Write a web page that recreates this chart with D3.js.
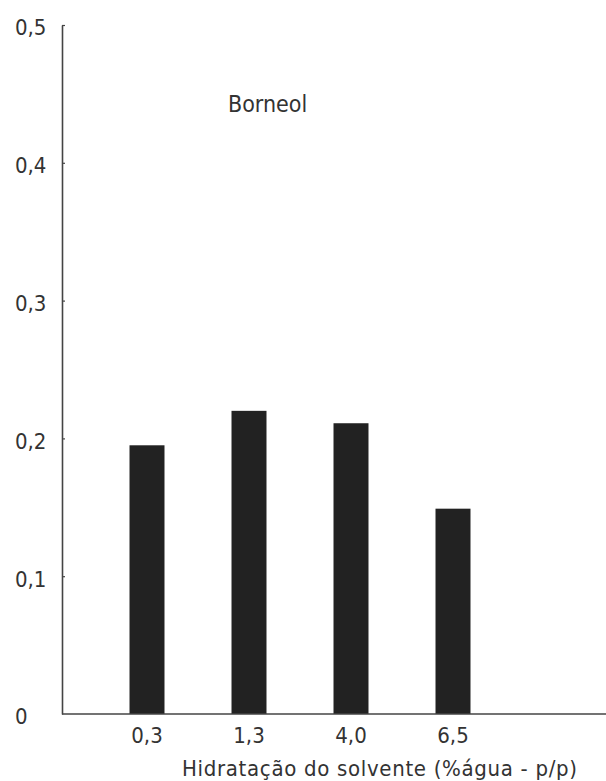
<!DOCTYPE html>
<html>
<head>
<meta charset="utf-8">
<script src="https://cdn.jsdelivr.net/npm/d3@7"></script>
<style>
  html, body { margin: 0; padding: 0; background: #ffffff; }
  svg { display: block; }
  text { font-family: "DejaVu Sans Condensed", "DejaVu Sans", sans-serif; font-stretch: condensed; fill: #333; }
</style>
</head>
<body>
<svg id="chart" width="606" height="781"></svg>
<script>
const categories = ["0,3", "1,3", "4,0", "6,5"];
const values = [0.195, 0.220, 0.211, 0.149];
const yTicks = [0, 0.1, 0.2, 0.3, 0.4, 0.5];
const yTickLabels = ["0", "0,1", "0,2", "0,3", "0,4", "0,5"];
const seriesLabel = "Borneol";
const xTitle = "Hidratação do solvente (%água - p/p)";

const svg = d3.select("#chart");
const W = 606, H = 781;
const x0 = 62, yBase = 714, yTop = 25;

svg.append("rect").attr("width", W).attr("height", H).attr("fill", "#fff");

const x = d3.scaleBand()
  .domain(categories)
  .range([96, 504])
  .paddingInner(0.657)
  .paddingOuter(0.3285);

const y = d3.scaleLinear().domain([0, 0.5]).range([yBase, yTop]);

// bars
svg.append("g").selectAll("rect")
  .data(categories.map((c, i) => ({c, v: values[i]})))
  .join("rect")
  .attr("x", d => x(d.c))
  .attr("width", x.bandwidth())
  .attr("y", d => y(d.v))
  .attr("height", d => y(0) - y(d.v))
  .attr("fill", "#222");

// y axis
const yAxis = d3.axisLeft(y)
  .tickValues(yTicks)
  .tickFormat((d, i) => yTickLabels[i])
  .tickSizeInner(-3)
  .tickSizeOuter(0);
const gy = svg.append("g").attr("transform", `translate(${x0},0)`).call(yAxis);
gy.select(".domain").attr("stroke", "#444").attr("stroke-width", 1.6);
gy.selectAll(".tick line").attr("stroke", "#444").attr("stroke-width", 1.2);
gy.selectAll(".tick text")
  .attr("x", -47)
  .attr("text-anchor", "start")
  .attr("dy", "0.45em")
  .style("font-size", "22px")
  .attr("fill", "#333");
gy.selectAll(".tick").filter(d => d === 0).select("line").remove();

// x axis
const xAxis = d3.axisBottom(x).tickSize(0).tickPadding(13);
const gx = svg.append("g").attr("transform", `translate(0,${yBase})`).call(xAxis);
gx.select(".domain").remove();
gx.selectAll(".tick text").style("font-size", "22px").attr("fill", "#333");
svg.append("line")
  .attr("x1", x0).attr("x2", W)
  .attr("y1", yBase).attr("y2", yBase)
  .attr("stroke", "#444").attr("stroke-width", 1.6);

// series label
svg.append("text")
  .attr("x", 228).attr("y", 112)
  .style("font-size", "23px")
  .text(seriesLabel);

// x title
const t = svg.append("text")
  .attr("x", 182).attr("y", 776)
  .style("font-size", "22px")
  .text(xTitle);
t.attr("textLength", 395).attr("lengthAdjust", "spacing");
</script>
</body>
</html>
